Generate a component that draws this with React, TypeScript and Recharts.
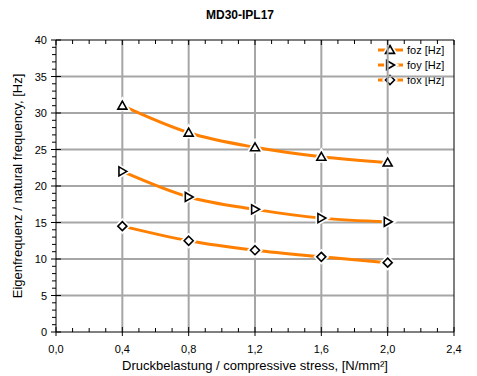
import React from 'react';
import { LineChart, Line, XAxis, YAxis, ReferenceLine } from 'recharts';

const stress = [0.4, 0.8, 1.2, 1.6, 2.0];
const foz = [31.0, 27.3, 25.3, 24.0, 23.2];
const foy = [22.0, 18.5, 16.8, 15.6, 15.1];
const fox = [14.5, 12.5, 11.2, 10.3, 9.5];

const xTicks: number[] = Array.from({ length: 25 }, (_, i) => Math.round(i) / 10);
const yTicks: number[] = Array.from({ length: 41 }, (_, i) => i);
const xGrid = [0.4, 0.8, 1.2, 1.6, 2.0];
const yGrid = [5, 10, 15, 20, 25, 30, 35];

const data = stress.map((x, i) => ({ x, foz: foz[i], foy: foy[i], fox: fox[i] }));

const ORANGE = '#FF8000';
const FONT = '"Liberation Sans", Arial, sans-serif';

type Shape = 'up' | 'right' | 'diamond';

function markerPath(shape: Shape, cx: number, cy: number, s: number) {
  if (shape === 'up') return `M${cx},${cy - s} L${cx + s},${cy + s * 0.75} L${cx - s},${cy + s * 0.75} Z`;
  if (shape === 'right') return `M${cx + s},${cy} L${cx - s * 0.75},${cy + s} L${cx - s * 0.75},${cy - s} Z`;
  return `M${cx},${cy - s} L${cx + s},${cy} L${cx},${cy + s} L${cx - s},${cy} Z`;
}

const Marker = (shape: Shape) => (props: any) => {
  const { cx, cy } = props;
  if (cx == null || cy == null) return <g />;
  const d = markerPath(shape, cx, cy, 4.5);
  return (
    <g>
      <path d={d} fill="#fff" stroke="#fff" strokeWidth={5} />
      <path d={d} fill="#fff" stroke="#000" strokeWidth={1.6} />
    </g>
  );
};

const isMajorX = (v: number) => Math.round(v * 10) % 4 === 0;
const isMajorY = (v: number) => Math.round(v) % 5 === 0;

const BottomTick = (props: any) => {
  const { x, y, payload } = props;
  const v = payload.value as number;
  const major = isMajorX(v);
  return (
    <g>
      <line x1={x} x2={x} y1={major ? y - 5 : y - 4} y2={major ? y + 4 : y} stroke="#000" strokeWidth={1} />
      {major && (
        <text x={x} y={y + 21} textAnchor="middle" fontSize={11} fontFamily={FONT} fill="#000">
          {v.toFixed(1).replace('.', ',')}
        </text>
      )}
    </g>
  );
};

const TopTick = (props: any) => {
  const { x, y, payload } = props;
  const v = payload.value as number;
  const major = isMajorX(v);
  return <line x1={x} x2={x} y1={y} y2={y + (major ? 5 : 4)} stroke="#000" strokeWidth={1} />;
};

const LeftTick = (props: any) => {
  const { x, y, payload } = props;
  const v = payload.value as number;
  const major = isMajorY(v);
  return (
    <g>
      <line x1={major ? x - 5 : x - 4} x2={major ? x + 5 : x} y1={y} y2={y} stroke="#000" strokeWidth={1} />
      {major && (
        <text x={x - 9} y={y + 4} textAnchor="end" fontSize={11} fontFamily={FONT} fill="#000">
          {v}
        </text>
      )}
    </g>
  );
};

const RightTick = (props: any) => {
  const { x, y, payload } = props;
  const v = payload.value as number;
  const major = isMajorY(v);
  return (
    <g>
      <line x1={major ? x - 5 : x} x2={major ? x + 5 : x + 4} y1={y} y2={y} stroke="#000" strokeWidth={1} />
      {major && (
        <text x={x + 9} y={y + 4} textAnchor="start" fontSize={11} fontFamily={FONT} fill="#000">
          {v}
        </text>
      )}
    </g>
  );
};

const legendItems: { label: string; shape: Shape }[] = [
  { label: 'foz [Hz]', shape: 'up' },
  { label: 'foy [Hz]', shape: 'right' },
  { label: 'fox [Hz]', shape: 'diamond' },
];

const LegendGroup = ({ left, top }: { left: number; top: number }) => (
  <g transform={`translate(${left},${top})`}>
    {legendItems.map((it, i) => {
      const cy = i * 15;
      const d = markerPath(it.shape, 13, cy, 4.5);
      return (
        <g key={it.label}>
          <line x1={1} x2={26} y1={cy} y2={cy} stroke={ORANGE} strokeWidth={3} />
          <path d={d} fill="#fff" stroke="#fff" strokeWidth={5} />
          <path d={d} fill="#fff" stroke="#000" strokeWidth={1.6} />
          <text x={30} y={cy + 4} fontSize={11} fontFamily={FONT} fill="#000">
            {it.label}
          </text>
        </g>
      );
    })}
  </g>
);

export default function App() {
  return (
    <div style={{ position: 'absolute', left: 0, top: 0, width: 477, height: 376, background: '#fff' }}>
      <LineChart width={477} height={376} data={data} margin={{ top: 30, right: 0, bottom: 0, left: 0 }}>
        <XAxis
          xAxisId="b"
          dataKey="x"
          type="number"
          domain={[0, 2.4]}
          ticks={xTicks}
          interval={0}
          height={44}
          tickSize={0}
          tickMargin={0}
          tickLine={false}
          tick={BottomTick}
          axisLine={{ stroke: '#000' }}
          allowDataOverflow
        />
        <XAxis
          xAxisId="t"
          orientation="top"
          dataKey="x"
          type="number"
          domain={[0, 2.4]}
          ticks={xTicks}
          interval={0}
          height={10}
          tickSize={0}
          tickMargin={0}
          tickLine={false}
          tick={TopTick}
          axisLine={{ stroke: '#000' }}
          allowDataOverflow
        />
        <YAxis
          yAxisId="l"
          type="number"
          domain={[0, 40]}
          ticks={yTicks}
          interval={0}
          width={56}
          tickSize={0}
          tickMargin={0}
          tickLine={false}
          tick={LeftTick}
          axisLine={{ stroke: '#000' }}
        />
        <YAxis
          yAxisId="r"
          orientation="right"
          type="number"
          domain={[0, 40]}
          ticks={yTicks}
          interval={0}
          width={23}
          tickSize={0}
          tickMargin={0}
          tickLine={false}
          tick={RightTick}
          axisLine={{ stroke: '#000' }}
        />
        {xGrid.map((g) => (
          <ReferenceLine key={'x' + g} x={g} xAxisId="b" yAxisId="l" stroke="#a6a6a6" strokeWidth={2} />
        ))}
        {yGrid.map((g) => (
          <ReferenceLine key={'y' + g} y={g} xAxisId="b" yAxisId="l" stroke="#a6a6a6" strokeWidth={2} />
        ))}
        <Line xAxisId="b" yAxisId="l" dataKey="foz" type="monotone" stroke={ORANGE} strokeWidth={3} dot={Marker('up')} activeDot={false} isAnimationActive={false} />
        <Line xAxisId="b" yAxisId="l" dataKey="foy" type="monotone" stroke={ORANGE} strokeWidth={3} dot={Marker('right')} activeDot={false} isAnimationActive={false} />
        <Line xAxisId="b" yAxisId="l" dataKey="fox" type="monotone" stroke={ORANGE} strokeWidth={3} dot={Marker('diamond')} activeDot={false} isAnimationActive={false} />
        <LegendGroup left={377} top={50} />
        <text x={240} y={19} textAnchor="middle" fontSize={12} fontWeight="bold" fontFamily={FONT} fill="#000">
          MD30-IPL17
        </text>
        <text x={255} y={370} textAnchor="middle" fontSize={13} fontFamily={FONT} fill="#000">
          Druckbelastung / compressive stress, [N/mm²]
        </text>
        <text x={22} y={186} textAnchor="middle" fontSize={13} fontFamily={FONT} fill="#000" transform="rotate(-90 22 186)">
          Eigenfrequenz / natural frequency, [Hz]
        </text>
      </LineChart>
    </div>
  );
}
